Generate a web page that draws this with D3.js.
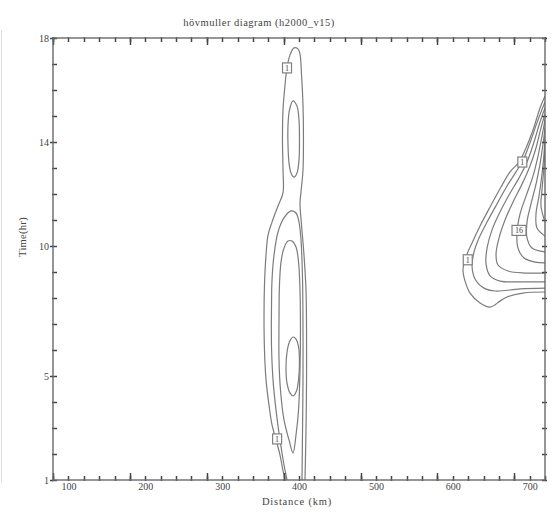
<!DOCTYPE html>
<html lang="en">
<head>
<meta charset="utf-8">
<script src="https://cdn.jsdelivr.net/npm/d3@7"></script>
<style>
  body { margin: 0; background: #fff; }
  text { font-family: "Liberation Serif", "DejaVu Serif", serif; fill: #444; }
</style>
</head>
<body>
<script>
var w = 555, h = 513;

// axis values
var xDomain = [80, 720];            // distance (km)
var yDomain = [1, 18];              // time (hr)
var xLabels = [100, 200, 300, 400, 500, 600, 700];
var xMajor = [80, 180, 280, 380, 480, 580, 680];
var yLabels = [1, 5, 10, 14, 18];

// contours as [distance km, time hr]
// left feature (around 400 km)
var left1 = [[382,1.0],[379,1.38],[375.3,1.96],[370.1,2.54],[364.9,3.12],[361,3.88],[357.1,4.85],[355.1,6.0],[354.5,7.35],[355.1,8.5],[357.1,9.65],[359.7,10.42],[364.9,10.92],[372.7,11.54],[379.2,12.04],[379.2,12.92],[378.5,14.08],[379.2,15.23],[381.8,16.19],[384.4,16.85],[388.3,17.35],[393.5,17.62],[398.7,17.58],[401.3,17.38],[403.3,16.58],[405.2,15.42],[405.8,14.08],[405.2,12.92],[402.6,12.08],[401.3,11.65],[403.3,10.81],[406.5,9.65],[409.1,8.31],[409.8,6.77],[409.8,4.85],[409.1,2.92],[407.8,1.0]];
var left2 = [[384.4,1.0],[380.5,1.58],[375.3,2.54],[370.1,3.69],[366.2,4.85],[364.2,6.19],[364.2,7.54],[364.9,8.69],[367.5,9.65],[372.7,10.54],[380.5,11.08],[389.6,11.35],[396.1,11.27],[400,10.92],[402.6,10.23],[404.6,8.69],[405.2,6.77],[405.2,4.85],[404.6,2.92],[403.9,1.0]];
var left2top = [[392.2,15.58],[387.6,15.23],[385.7,14.65],[385.7,13.88],[387,13.19],[389.6,12.81],[393.5,12.65],[397.4,12.81],[400,13.31],[400.6,14.08],[400,14.85],[397.4,15.38]];
var left3 = [[392.2,2.04],[387,2.54],[380.5,3.31],[375.9,4.46],[374,5.62],[374,7.15],[374.6,8.5],[376.6,9.38],[380.5,9.92],[385.7,10.19],[390.9,10.19],[396.1,9.96],[399.4,9.38],[401.3,8.31],[401.9,6.77],[401.3,5.23],[399.4,3.69],[396.1,2.73]];
var left4 = [[392.2,6.5],[387.6,6.31],[384.4,5.92],[383.1,5.31],[384.4,4.73],[388.3,4.35],[392.2,4.23],[396.7,4.42],[399.4,4.85],[400.6,5.54],[399.4,6.12],[396.1,6.42]];

// right feature (edge of the domain, 600-720 km)
var right1 = [[720,15.77],[713.5,15.31],[704.4,14.46],[695.3,13.77],[686.2,13.23],[674.5,12.85],[662.8,12.27],[648.5,11.5],[635.5,10.77],[625.1,10.12],[617.2,9.58],[613.3,9.08],[616,8.65],[622.5,8.19],[635.5,7.81],[648.5,7.65],[661.5,7.88],[670.6,8.04],[691.4,8.19],[720,8.23]];
var right2 = [[720,15.54],[710.9,14.85],[701.8,14.08],[692.7,13.38],[682.3,12.85],[670.6,12.31],[657.6,11.62],[644.6,10.92],[634.2,10.31],[627.7,9.77],[625.1,9.23],[629,8.73],[640.7,8.38],[655,8.27],[687.5,8.35],[720,8.38]];
var right3 = [[720,15.31],[713.5,14.77],[705.7,14.0],[696.6,13.23],[686.2,12.62],[673.2,11.96],[661.5,11.31],[651.1,10.62],[644.6,9.92],[643.3,9.31],[648.5,8.85],[661.5,8.65],[687.5,8.62],[720,8.62]];
var right4 = [[720,15.08],[714.8,14.54],[708.3,13.77],[700.5,13.08],[690.1,12.38],[678.4,11.69],[668,11.0],[660.2,10.31],[656.3,9.69],[658.9,9.27],[671.9,9.04],[694,8.96],[720,8.96]];
var right5 = [[720,14.85],[716.1,14.23],[710.9,13.46],[704.4,12.69],[695.3,11.92],[687.5,11.23],[683.6,10.54],[684.9,9.92],[692.7,9.54],[707,9.38],[720,9.35]];
var right6 = [[720,14.54],[717.4,13.92],[713.5,13.15],[708.3,12.38],[701.8,11.62],[696.6,10.92],[696.6,10.31],[703.1,9.92],[720,9.77]];
var right7 = [[720,14.23],[718.7,13.54],[716.1,12.77],[712.2,11.92],[708.3,11.23],[709.6,10.69],[720,10.38]];
var right8 = [[720,13.85],[718.7,13.08],[716.1,12.15],[714.8,11.54],[720,10.92]];

var openLines = [left1, left2, right1, right2, right3, right4, right5, right6, right7, right8];
var closedLines = [left2top, left3, left4];

// contour labels [km, hr, text]
var contourLabels = [[384.4,16.85,"1"],[371.5,2.58,"1"],[619.5,9.47,"1"],[690.5,13.23,"1"],[686.2,10.6,"16"]];

var plot = {left: 53, right: 545, top: 38, bottom: 480};

var svg = d3.select("body").append("svg")
  .attr("width", w).attr("height", h);

var x = d3.scaleLinear().domain(xDomain).range([plot.left, plot.right]);
var y = d3.scaleLinear().domain(yDomain).range([plot.bottom, plot.top]);

// faint line on the far left
svg.append("line").attr("x1", 1.5).attr("x2", 1.5).attr("y1", 30).attr("y2", 483)
  .attr("stroke", "#ddd").attr("stroke-width", 1);

// contours
var line = d3.line().x(function(d){ return x(d[0]); }).y(function(d){ return y(d[1]); })
  .curve(d3.curveCatmullRom.alpha(0.5));
var lineClosed = d3.line().x(function(d){ return x(d[0]); }).y(function(d){ return y(d[1]); })
  .curve(d3.curveCatmullRomClosed.alpha(0.5));

svg.append("clipPath").attr("id", "clip").append("rect")
  .attr("x", plot.left).attr("y", plot.top)
  .attr("width", plot.right - plot.left).attr("height", plot.bottom - plot.top);

var g = svg.append("g").attr("clip-path", "url(#clip)");
g.selectAll("path.open").data(openLines).enter().append("path")
  .attr("class", "open").attr("d", line)
  .attr("fill", "none").attr("stroke", "#7c7c7c").attr("stroke-width", 1.2);
g.selectAll("path.closed").data(closedLines).enter().append("path")
  .attr("class", "closed").attr("d", lineClosed)
  .attr("fill", "none").attr("stroke", "#7c7c7c").attr("stroke-width", 1.2);

// label boxes
var lab = svg.selectAll("g.lab").data(contourLabels).enter().append("g")
  .attr("class", "lab")
  .attr("transform", function(d){ return "translate(" + x(d[0]) + "," + y(d[1]) + ")"; });
lab.append("rect")
  .attr("x", function(d){ return d[2].length > 1 ? -7 : -4.5; })
  .attr("y", -5)
  .attr("width", function(d){ return d[2].length > 1 ? 14 : 9; })
  .attr("height", 10)
  .attr("fill", "#fff").attr("stroke", "#808080").attr("stroke-width", 1.2);
lab.append("text").attr("text-anchor", "middle").attr("y", 3)
  .style("font-size", "8px").text(function(d){ return d[2]; });

// tick marks, drawn from the scales
var tickColor = "#444";
var xMinor = d3.range(xDomain[0], xDomain[1] + 1, 20);
var yMinor = d3.range(yDomain[0], yDomain[1] + 1, 1);

function xTicks(vals, y1, y2){
  svg.append("g").selectAll("line").data(vals).enter().append("line")
    .attr("x1", function(d){ return Math.round(x(d)) + 0.5; })
    .attr("x2", function(d){ return Math.round(x(d)) + 0.5; })
    .attr("y1", y1).attr("y2", y2)
    .attr("stroke", tickColor).attr("stroke-width", 1.5);
}
function yTicks(vals, x1, x2){
  svg.append("g").selectAll("line").data(vals).enter().append("line")
    .attr("y1", function(d){ return Math.round(y(d)) + 0.5; })
    .attr("y2", function(d){ return Math.round(y(d)) + 0.5; })
    .attr("x1", x1).attr("x2", x2)
    .attr("stroke", tickColor).attr("stroke-width", 1.5);
}
xTicks(xMinor, plot.bottom + 1, plot.bottom - 4);
xTicks(xMajor, plot.bottom + 1, plot.bottom - 7);
xTicks(xMinor, plot.top - 1, plot.top + 4);
xTicks(xMajor, plot.top - 1, plot.top + 7);
yTicks(yMinor, plot.left - 1, plot.left + 4);
yTicks(yLabels, plot.left - 3, plot.left);
yTicks(yMinor, plot.right - 3, plot.right + 2);

var xl = svg.append("g").attr("transform", "translate(0," + plot.bottom + ")")
  .call(d3.axisBottom(x).tickValues(xLabels).tickSize(0).tickPadding(3));
xl.select(".domain").remove();
xl.selectAll("text").style("font-size", "10px").style("font-family", "Liberation Serif").attr("fill", "#444");

var yl = svg.append("g").attr("transform", "translate(" + (plot.left - 3) + ",0)")
  .call(d3.axisLeft(y).tickValues(yLabels).tickSize(0).tickPadding(1));
yl.select(".domain").remove();
yl.selectAll("text").style("font-size", "10px").style("font-family", "Liberation Serif").attr("fill", "#444");

// frame
svg.append("rect").attr("x", plot.left).attr("y", plot.top)
  .attr("width", plot.right - plot.left).attr("height", plot.bottom - plot.top)
  .attr("fill", "none").attr("stroke", "#6a6a6a").attr("stroke-width", 1.4);

// titles
svg.append("text").attr("x", 259).attr("y", 26).attr("text-anchor", "middle")
  .style("font-size", "10.5px").style("letter-spacing", "0.5px")
  .text("hövmuller diagram (h2000_v15)");
svg.append("text").attr("x", 297).attr("y", 505).attr("text-anchor", "middle")
  .style("font-size", "10.5px").style("letter-spacing", "0.8px")
  .text("Distance (km)");
svg.append("text").attr("transform", "translate(26,237) rotate(-90)").attr("text-anchor", "middle")
  .style("font-size", "10.5px").style("letter-spacing", "0.3px")
  .text("Time(hr)");
</script>
</body>
</html>
